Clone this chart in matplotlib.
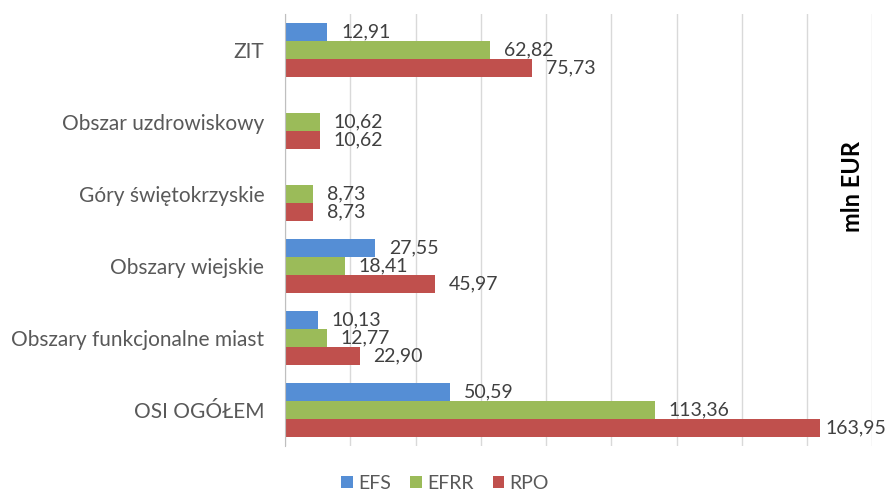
import matplotlib
matplotlib.use("Agg")
import matplotlib.pyplot as plt
import numpy as np

plt.rcParams['font.family'] = ['Lato', 'DejaVu Sans']

# dane (mln EUR)
categories = ["OSI OGÓŁEM", "Obszary funkcjonalne miast", "Obszary wiejskie",
              "Góry świętokrzyskie", "Obszar uzdrowiskowy", "ZIT"]
efs = [50.59, 10.13, 27.55, 0, 0, 12.91]
efrr = [113.36, 12.77, 18.41, 8.73, 10.62, 62.82]
rpo = [163.95, 22.90, 45.97, 8.73, 10.62, 75.73]
series_names = ["EFS", "EFRR", "RPO"]
colors = ["#558ED5", "#9BBB59", "#C0504D"]

fig = plt.figure(figsize=(8.9, 5.03), dpi=100)
ax = fig.add_axes([0.3202, 0.1133, 0.66, 0.8589])

y = np.arange(len(categories))
h = 0.25
offsets = [h, 0, -h]
vmax = max(rpo)

for vals, name, col, off in zip([efs, efrr, rpo], series_names, colors, offsets):
    vals = np.array(vals)
    ax.barh(y + off, vals, height=h, color=col, label=name, zorder=3)
    for yi, v in zip(y, vals):
        if v == 0:
            continue
        lab = f"{v:.2f}".replace(".", ",")
        dx = 4 if v == vmax else 10  # ostatnia etykieta przesunieta, zeby sie zmiescila
        ax.annotate(lab, (v, yi + off), xytext=(dx, 0), textcoords="offset points",
                    va="center", ha="left", fontsize=14, color="#404040")

ax.set_xlim(0, 180)
ax.set_ylim(-0.5, len(categories) - 0.5)
ax.set_xticks(np.arange(0, 181, 20))
ax.set_xticklabels([])
ax.tick_params(axis="x", length=0)
ax.tick_params(axis="y", length=0, pad=15, labelsize=15, labelcolor="#595959")
ax.set_yticks(y)
ax.set_yticklabels(categories)
ax.grid(axis="x", color="#D9D9D9", linewidth=1, zorder=0)

for s in ["top", "right", "bottom"]:
    ax.spines[s].set_visible(False)
ax.spines["left"].set_color("#BFBFBF")
ax.spines["left"].set_zorder(4)

ax.text(174, 3.1, "mln EUR", rotation=90, ha="center", va="center",
        fontsize=17, fontweight="bold", color="black")

fig.legend(loc="lower center", bbox_to_anchor=(0.5, -0.012), ncol=3, frameon=False,
           fontsize=14, handlelength=0.6, handleheight=0.6, handletextpad=0.25,
           columnspacing=1.0, labelcolor="#595959")

fig.savefig("out.png", dpi=100)
